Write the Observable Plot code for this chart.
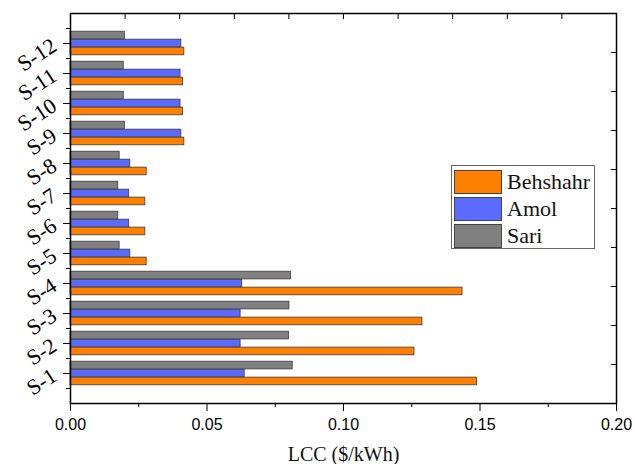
<!DOCTYPE html>
<html><head><meta charset="utf-8">
<script src="https://cdn.jsdelivr.net/npm/d3@7"></script>
<script src="https://cdn.jsdelivr.net/npm/@observablehq/plot@0.6"></script>
<style>
body{margin:0;background:#fff;}
#wrap{position:relative;width:635px;height:464px;}
#legend{position:absolute;left:451px;top:165px;width:144px;height:84px;border:1px solid #666;background:#fff;box-sizing:border-box;padding:2px 2px;font-family:"Liberation Serif",serif;font-size:22px;color:#111;}
.item{display:flex;align-items:center;height:27px;}
.sw{width:48px;height:24px;border:1px solid #444;box-sizing:border-box;margin-right:5px;}
</style></head>
<body><div id="wrap"><div id="legend"></div></div>
<script>
const categories = ["S-1","S-2","S-3","S-4","S-5","S-6","S-7","S-8","S-9","S-10","S-11","S-12"];
const seriesNames = ["Behshahr","Amol","Sari"];
const behshahr = [0.1489,0.1260,0.1289,0.1436,0.0279,0.0274,0.0274,0.0279,0.0417,0.0412,0.0412,0.0417];
const amol     = [0.0638,0.0623,0.0623,0.0629,0.0219,0.0215,0.0215,0.0219,0.0406,0.0403,0.0403,0.0406];
const sari     = [0.0814,0.0800,0.0802,0.0808,0.0180,0.0175,0.0175,0.0180,0.0199,0.0195,0.0195,0.0199];
const xTickLabels = ["0.00","0.05","0.10","0.15","0.20"];
const xTitle = "LCC ($/kWh)";

const colors = {Behshahr:"#ff8000", Amol:"#5b6bff", Sari:"#808080"};
const offsets = {Behshahr:-0.265, Amol:0, Sari:0.265};
const half = 0.128;
const valuesBySeries = {Behshahr:behshahr, Amol:amol, Sari:sari};

const data = [];
seriesNames.forEach(s => categories.forEach((c,i) => data.push({cat:c, idx:i+1, series:s, value:valuesBySeries[s][i]})));

const serif = "Liberation Serif, Times New Roman, serif";
const sans = "Liberation Sans, Arial, sans-serif";
const majorX = [0,0.05,0.1,0.15,0.2];
const minorX = [0.025,0.075,0.125,0.175];
const topX = d3.range(1,10).map(k => k*0.02);
const majorY = categories.map((c,i)=>i+1);
const minorY = d3.range(0,13).map(k=>k+0.5);
const rightY = d3.range(1,10).map(k=>k*1.3);

const chart = Plot.plot({
  width:635, height:464,
  marginLeft:70, marginRight:19, marginTop:13, marginBottom:61,
  x:{domain:[0,0.2]},
  y:{domain:[0,13]},
  marks:[
    Plot.rectX(data,{x1:0, x2:"value", y1:d=>d.idx+offsets[d.series]-half, y2:d=>d.idx+offsets[d.series]+half, fill:d=>colors[d.series], stroke:"#3a3a3a", strokeWidth:0.8}),
    Plot.axisX({ticks:majorX, tickFormat:(d,i)=>xTickLabels[i], tickSize:8, tickPadding:7, fontFamily:sans, fontSize:16, label:null, stroke:"black", fill:"black"}),
    Plot.axisX({ticks:minorX, tickFormat:()=>"", tickSize:4, label:null}),
    Plot.axisX({anchor:"top", ticks:topX, tickFormat:()=>"", tickSize:-5, label:null}),
    Plot.axisY({ticks:majorY, tickFormat:d=>categories[d-1], tickSize:7, tickPadding:9, tickRotate:-33, fontFamily:serif, fontSize:22, label:null}),
    Plot.axisY({ticks:minorY, tickFormat:()=>"", tickSize:4, label:null}),
    Plot.axisY({anchor:"right", ticks:rightY, tickFormat:()=>"", tickSize:-6, label:null}),
    Plot.frame({stroke:"black", strokeWidth:1.5}),
    Plot.text([xTitle],{text:d=>d, frameAnchor:"bottom", dy:57, fontFamily:serif, fontSize:20, fill:"#111"})
  ]
});
document.getElementById("wrap").prepend(chart);

const lg = document.getElementById("legend");
seriesNames.forEach(s=>{
  const it=document.createElement("div"); it.className="item";
  const sw=document.createElement("div"); sw.className="sw"; sw.style.background=colors[s];
  const t=document.createElement("span"); t.textContent=s;
  it.appendChild(sw); it.appendChild(t); lg.appendChild(it);
});
</script></body></html>
